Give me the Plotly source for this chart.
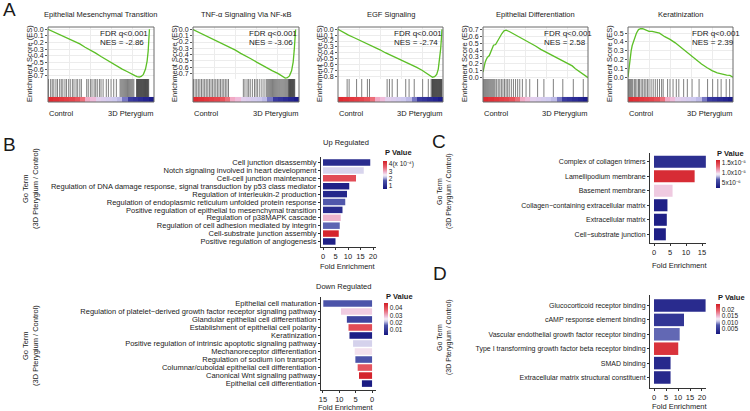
import plotly.graph_objects as go

W, H = 750, 411
FONT = "Liberation Sans, Arial, Helvetica, sans-serif"

# ---------------- Panel A : GSEA data ----------------
gsea_titles = ["Epithelial Mesenchymal Transition", "TNF-α Signaling Via NF-κB",
               "EGF Signaling", "Epithelial Differentiation", "Keratinization"]
gsea_nes = ["-2.86", "-3.06", "-2.74", "2.58", "2.39"]
gsea_fdr = "FDR q<0.001"
group_left = "Control"
group_right = "3D Pterygium"

emt_rank = [0, 4, 8, 12, 16, 20, 25, 30, 35, 40, 45, 50, 55, 60, 65, 70, 75, 79, 82, 84, 86, 88, 90, 92, 93.5, 94.5, 95.2, 95.7]
emt_es = [0, -0.03, -0.06, -0.08, -0.11, -0.14, -0.18, -0.22, -0.27, -0.31, -0.36, -0.41, -0.46, -0.51, -0.55,
          -0.60, -0.64, -0.68, -0.70, -0.715, -0.72, -0.71, -0.68, -0.60, -0.48, -0.33, -0.15, 0.0]
tnf_rank = [0, 5, 10, 15, 20, 25, 30, 35, 40, 45, 50, 55, 60, 65, 70, 75, 80, 84, 87, 89, 91, 93, 94.5, 95.5, 96.3, 96.8]
tnf_es = [0, -0.04, -0.08, -0.12, -0.16, -0.20, -0.24, -0.29, -0.33, -0.38, -0.42, -0.47, -0.52, -0.57, -0.61,
          -0.66, -0.70, -0.74, -0.775, -0.77, -0.74, -0.66, -0.52, -0.33, -0.12, 0.0]
egf_rank = [0, 2, 4, 6, 10, 15, 20, 25, 30, 35, 40, 45, 50, 55, 60, 65, 70, 75, 80, 85, 88, 90, 92, 94, 95.5,
            96.8, 97.8, 98.5, 99]
egf_es = [0, -0.02, -0.05, -0.07, -0.10, -0.14, -0.18, -0.22, -0.27, -0.31, -0.35, -0.40, -0.44, -0.48, -0.52,
          -0.57, -0.61, -0.65, -0.70, -0.76, -0.80, -0.82, -0.81, -0.77, -0.68, -0.52, -0.33, -0.15, 0.0]
epi_rank = [0, 1, 2, 3, 4, 6, 8, 10, 12, 14, 16, 18, 20, 22, 25, 30, 35, 40, 45, 50, 55, 60, 65, 70, 75, 80,
            85, 88, 91, 94, 97, 100]
epi_es = [0.08, 0.16, 0.22, 0.26, 0.29, 0.32, 0.40, 0.47, 0.48, 0.54, 0.60, 0.64, 0.68, 0.69, 0.67, 0.63, 0.59,
          0.55, 0.50, 0.46, 0.41, 0.37, 0.33, 0.28, 0.24, 0.20, 0.17, 0.13, 0.10, 0.07, 0.04, 0.0]
ker_rank = [0, 1, 2, 3, 4, 6, 8, 10, 12, 14, 16, 18, 20, 23, 26, 30, 35, 40, 45, 50, 55, 60, 65, 70, 75, 80,
            85, 88, 91, 94, 97, 100]
ker_es = [0.0, 0.12, 0.22, 0.30, 0.36, 0.44, 0.50, 0.54, 0.55, 0.55, 0.54, 0.53, 0.52, 0.52, 0.51, 0.50, 0.46,
          0.43, 0.39, 0.34, 0.30, 0.25, 0.20, 0.15, 0.11, 0.075, 0.05, 0.04, 0.03, 0.025, 0.02, 0.0]

emt_hits = [0.5, 2.5, 4, 5.5, 7.5, 9, 11, 12.5, 14, 16, 17.5, 19.5, 21, 23, 24.5, 26.5, 28, 30, 31.5,
            36.5, 38, 40, 41.5, 43.5, 45, 46.5, 48.5, 50, 52, 55, 57, 59.5, 62, 64.5,
            68, 69, 70, 71, 72, 73, 74, 75, 76, 77, 78, 79, 80, 81,
            83.5, 84, 84.5, 85, 85.5, 86, 86.5, 87, 87.5, 88, 88.5, 89, 89.5, 90, 90.5, 91, 91.5, 92,
            92.5, 93, 93.5, 94, 94.5, 95]
tnf_hits = [0.5, 2, 3.5, 5, 6.5, 8, 9.5, 11, 12.5, 14, 15.5, 17, 18.5, 20, 21.5, 23, 24.5, 26, 27.5, 29, 30.5,
            32, 33.5, 47.5, 49, 51, 52.5, 54, 56, 58, 59.5, 61, 63, 65, 67,
            69, 70, 71, 72, 73, 74, 75, 76, 77, 78, 79, 80, 81, 82, 83, 84, 85, 86, 87, 88, 89,
            90, 90.5, 91, 91.5, 92, 92.5, 93, 93.5, 94, 94.5, 95, 95.5, 96]
egf_hits = [8.7, 10.6, 17.7, 22.6, 28, 30, 46.8, 49, 51.6, 56.5, 64.5, 67.7, 72.6, 80.6, 86, 88.7,
            89.5, 90, 90.5, 91, 91.5, 92, 92.5, 93, 93.5, 94, 94.5, 95, 95.5, 96, 96.5, 97, 97.5, 98, 98.5, 99]
epi_hits = [0.5, 1.5, 2.5, 3.5, 4.5, 5.5, 6.5, 7.5, 8.5, 9.5, 10.5, 11.5, 13, 14.5, 16, 17.5, 19, 20.5, 22,
            23.5, 25, 27, 29, 31, 33, 35, 37.5, 41, 44.5, 52, 58, 67, 76, 86, 95.5]
ker_hits = [0.5, 1.5, 2.5, 3.5, 4.5, 6, 7, 8.5, 10, 11, 12.5, 14, 15.5, 17, 18.5, 20, 22, 24, 26, 28, 30, 32,
            33.5, 37.7, 40, 42.9, 46, 48.4, 53, 56.5, 61, 67.7, 75.8, 80.6, 85.5, 88.7, 93.5, 96.8]

# ranked-list metric colour band (20 segments, left = Control, right = 3D Pterygium)
band_z = [1.0, 0.95, 0.9, 0.85, 0.8, 0.7, 0.55, 0.25, 0.15, -0.05, -0.1, -0.15, -0.2, -0.25, -0.45,
          -0.6, -0.7, -0.8, -0.9, -1.0]

emt_ticks = [0.0, -0.1, -0.2, -0.3, -0.4, -0.5, -0.6, -0.7]
tnf_ticks = [0.0, -0.1, -0.2, -0.3, -0.4, -0.5, -0.6, -0.7]
egf_ticks = [0.0, -0.1, -0.2, -0.3, -0.4, -0.5, -0.6, -0.7, -0.8]
epi_ticks = [0.0, 0.1, 0.2, 0.3, 0.4, 0.5, 0.6, 0.7]
ker_ticks = [0.0, 0.1, 0.2, 0.3, 0.4, 0.5]

# ---------------- Panel B ----------------
up_terms = ["Cell junction disassembly", "Notch signaling involved in heart development",
            "Cell-cell junction maintenance",
            "Regulation of DNA damage response, signal transduction by p53 class mediator",
            "Regulation of interleukin-2 production",
            "Regulation of endoplasmic reticulum unfolded protein response",
            "Positive regulation of epithelial to mesenchymal transition",
            "Regulation of p38MAPK cascade", "Regulation of cell adhesion mediated by integrin",
            "Cell-substrate junction assembly", "Positive regulation of angiogenesis"]
up_fold = [18.9, 16.3, 13.2, 10.5, 9.6, 8.9, 7.8, 7.1, 6.7, 6.3, 5.0]
up_p = [1.0e-4, 2.3e-4, 3.8e-4, 0.8e-4, 0.9e-4, 1.75e-4, 1.0e-4, 2.9e-4, 1.8e-4, 4.3e-4, 0.8e-4]
up_cbar_vals = [1e-4, 2e-4, 3e-4, 4e-4]
up_cbar_text = ["1", "2", "3", "4(x 10⁻⁴)"]

down_terms = ["Epithelial cell maturation",
              "Regulation of platelet−derived growth factor receptor signaling pathway",
              "Glandular epithelial cell differentiation", "Establishment of epithelial cell polarity",
              "Keratinization", "Positive regulation of intrinsic apoptotic signaling pathway",
              "Mechanoreceptor differentiation", "Regulation of sodium ion transport",
              "Columnar/cuboidal epithelial cell differentiation", "Canonical Wnt signaling pathway",
              "Epithelial cell differentiation"]
down_fold = [14.9, 9.5, 7.7, 7.2, 6.9, 5.8, 5.3, 5.1, 4.4, 4.0, 3.1]
down_p = [0.016, 0.0276, 0.0127, 0.0404, 0.005, 0.0224, 0.026, 0.016, 0.039, 0.046, 0.0043]
down_cbar_vals = [0.01, 0.02, 0.03, 0.04]
down_cbar_text = ["0.01", "0.02", "0.03", "0.04"]

# ---------------- Panel C ----------------
c_terms = ["Complex of collagen trimers", "Lamellipodium membrane", "Basement membrane",
           "Collagen−containing extracellular matrix", "Extracellular matrix", "Cell−substrate junction"]
c_fold = [16.2, 12.7, 5.8, 4.2, 4.0, 3.7]
c_p = [4.1e-6, 1.59e-5, 1.04e-5, 3.1e-6, 3.1e-6, 3.1e-6]
c_cbar_vals = [5e-6, 1.0e-5, 1.5e-5]
c_cbar_text = ["5x10⁻⁶", "1.0x10⁻⁵", "1.5x10⁻⁵"]

# ---------------- Panel D ----------------
d_terms = ["Glucocorticoid receptor binding", "cAMP response element binding",
           "Vascular endothelial growth factor receptor binding",
           "Type I transforming growth factor beta receptor binding", "SMAD binding",
           "Extracellular matrix structural constituent"]
d_fold = [21.5, 12.5, 10.7, 10.1, 6.9, 6.9]
d_p = [0.0032, 0.0044, 0.0084, 0.0228, 0.0030, 0.0030]
d_cbar_vals = [0.005, 0.010, 0.015, 0.02]
d_cbar_text = ["0.005", "0.010", "0.015", "0.02"]

bar_ticks_20 = [0, 5, 10, 15, 20]
bar_ticks_15 = [0, 5, 10, 15]

# ---------------- styling ----------------
BAR_SCALE = [[0, '#16167f'], [0.3, '#4d55aa'], [0.43, '#cfcdea'], [0.5, '#f5eef5'],
             [0.58, '#eec0da'], [0.78, '#e8606b'], [1, '#d21d25']]
BAND_SCALE = [[0, '#1c1c8a'], [0.2, '#3a3aa0'], [0.3, '#8c8cd0'], [0.4, '#cfcaf0'], [0.5, '#e8d0ec'],
              [0.6, '#f2b4d4'], [0.7, '#f08a98'], [0.85, '#e85058'], [1, '#e02a30']]
TXT = '#1a1a1a'


def X(px):
    return px / W


def Y(py):
    return 1 - py / H


fig = go.Figure()
layout = dict(width=W, height=H, margin=dict(l=0, r=0, t=0, b=0), paper_bgcolor='white',
              plot_bgcolor='white', showlegend=False, font=dict(family=FONT, color=TXT))
ann = []
shapes = []


def axname(k, axis):
    return axis + ('axis' if k == 1 else f'axis{k}')


def axref(k, axis):
    return axis if k == 1 else f'{axis}{k}'


def text(x, y, s, size, xanchor='center', angle=0, bold=False):
    if bold:
        s = f'<b>{s}</b>'
    ann.append(dict(x=X(x), y=Y(y), xref='paper', yref='paper', text=s, showarrow=False,
                    xanchor=xanchor, yanchor='middle', textangle=angle,
                    font=dict(size=size, family=FONT, color=TXT)))


# ---------- Panel A ----------
boxes = [(48, 154), (193, 299), (338, 443), (483, 588), (628, 733)]
curves = [(emt_rank, emt_es), (tnf_rank, tnf_es), (egf_rank, egf_es), (epi_rank, epi_es), (ker_rank, ker_es)]
hits_all = [emt_hits, tnf_hits, egf_hits, epi_hits, ker_hits]
ticks_all = [emt_ticks, tnf_ticks, egf_ticks, epi_ticks, ker_ticks]
yranges = [[-0.75, 0.035], [-0.79, 0.04], [-0.85, 0.04], [-0.02, 0.735], [-0.02, 0.57]]
fdr_x = [0.47, 0.51, 0.51, 0.56, 0.59]
ES_TOP, ES_BOT, LOW_BOT = 27, 79, 102

for i, (x0, x1) in enumerate(boxes):
    a, b = 2 * i + 1, 2 * i + 2
    rank, es = curves[i]
    fig.add_trace(go.Scatter(x=rank, y=es, mode='lines', line=dict(color='#5cbf26', width=1.3),
                             xaxis=axref(a, 'x'), yaxis=axref(a, 'y'), hoverinfo='skip'))
    hx, hy = [], []
    for h in hits_all[i]:
        hx += [h, h, None]
        hy += [0, 1, None]
    fig.add_trace(go.Scatter(x=hx, y=hy, mode='lines', line=dict(color='rgba(0,0,0,0.5)', width=1),
                             xaxis=axref(b, 'x'), yaxis=axref(b, 'y'), hoverinfo='skip'))
    fig.add_trace(go.Heatmap(z=[band_z], x0=2.5, dx=5, y0=-0.14, dy=0.28, colorscale=BAND_SCALE,
                             zmin=-1, zmax=1, showscale=False, xaxis=axref(b, 'x'), yaxis=axref(b, 'y'),
                             hoverinfo='skip'))
    layout[axname(a, 'x')] = dict(domain=[X(x0), X(x1)], range=[0, 100], anchor=axref(a, 'y'),
                                  showticklabels=False, ticks='', showgrid=True, gridcolor='#ececec',
                                  gridwidth=0.6, dtick=20, zeroline=False, showline=False)
    layout[axname(a, 'y')] = dict(domain=[Y(ES_BOT), Y(ES_TOP)], range=yranges[i], anchor=axref(a, 'x'),
                                  tickmode='array', tickvals=ticks_all[i],
                                  ticktext=[f'{v:.1f}' for v in ticks_all[i]],
                                  tickfont=dict(size=7, family=FONT, color=TXT), ticks='outside',
                                  ticklen=2, tickcolor='#555', showgrid=True, gridcolor='#ececec',
                                  gridwidth=0.6, zeroline=False, showline=False, automargin=False)
    layout[axname(b, 'x')] = dict(domain=[X(x0), X(x1)], range=[0, 100], anchor=axref(b, 'y'),
                                  showticklabels=False, ticks='', showgrid=False, zeroline=False,
                                  showline=False)
    layout[axname(b, 'y')] = dict(domain=[Y(LOW_BOT), Y(ES_BOT)], range=[-0.28, 1], anchor=axref(b, 'x'),
                                  showticklabels=False, ticks='', showgrid=False, zeroline=False,
                                  showline=False)
    shapes.append(dict(type='rect', xref='paper', yref='paper', x0=X(x0), x1=X(x1), y0=Y(LOW_BOT),
                       y1=Y(ES_TOP), line=dict(color='#6a6a6a', width=1)))
    text((x0 + x1) / 2, 15, gsea_titles[i], 7.5)
    text(x0 - 19, 64, 'Enrichment Score (ES)', 7.5, angle=-90)
    text(x0 - 1, 113, group_left, 7.5, xanchor='left')
    text(x1 + 1, 113, group_right, 7.5, xanchor='right')
    fx = x0 + fdr_x[i] * (x1 - x0)
    text(fx, 33, gsea_fdr, 8, xanchor='left')
    text(fx, 43, f'NES = {gsea_nes[i]}', 8, xanchor='left')


# ---------- bar panels ----------
def bar_panel(k, terms, fold, pvals, cmin, cmax, cb_vals, cb_text, cb_x, cb_y0, cb_y1,
              xdom, ydom, xrange, xticks, ypad, width, fsize):
    n = len(terms)
    fig.add_trace(go.Bar(
        x=fold, y=terms, orientation='h', width=width,
        marker=dict(color=pvals, colorscale=BAR_SCALE, cmin=cmin, cmax=cmax, line=dict(width=0),
                    showscale=True,
                    colorbar=dict(x=X(cb_x), xanchor='left', y=Y((cb_y0 + cb_y1) / 2), yanchor='middle',
                                  len=cb_y1 - cb_y0, lenmode='pixels', thickness=4, thicknessmode='pixels',
                                  xpad=0, ypad=0, outlinewidth=0, tickmode='array', tickvals=cb_vals,
                                  ticktext=cb_text, ticks='',
                                  tickfont=dict(size=6.5, family=FONT, color=TXT),
                                  title=dict(text=''))),
        xaxis=axref(k, 'x'), yaxis=axref(k, 'y'), hoverinfo='skip'))
    layout[axname(k, 'x')] = dict(domain=[X(xdom[0]), X(xdom[1])], range=xrange, anchor=axref(k, 'y'),
                                  tickmode='array', tickvals=xticks,
                                  tickfont=dict(size=7.5, family=FONT, color=TXT),
                                  ticks='outside', ticklen=2, tickcolor='#333', showline=True,
                                  linecolor='#333', linewidth=1, showgrid=False, zeroline=False,
                                  automargin=False)
    layout[axname(k, 'y')] = dict(domain=[Y(ydom[1]), Y(ydom[0])], type='category',
                                  categoryorder='array', categoryarray=terms,
                                  tickmode='array', tickvals=terms, ticktext=terms,
                                  range=[n - 1 + ypad, -ypad], anchor=axref(k, 'x'),
                                  tickfont=dict(size=fsize, family=FONT, color=TXT), ticks='outside',
                                  ticklen=2, tickcolor='#333', showline=True, linecolor='#333',
                                  linewidth=1, showgrid=False, zeroline=False, automargin=False)


bar_panel(11, up_terms, up_fold, up_p, 0.6e-4, 4.4e-4, up_cbar_vals, up_cbar_text, 383, 161, 189,
          (321, 376), (157, 247), [-0.8, 21.2], bar_ticks_20, 0.7, 0.82, 7.5)
bar_panel(12, down_terms, down_fold, down_p, 0.003, 0.047, down_cbar_vals, down_cbar_text, 384, 303, 335,
          (321, 376), (297, 390), [15.6, -1.2], bar_ticks_15, 0.8, 0.82, 7.5)
bar_panel(13, c_terms, c_fold, c_p, 2.4e-6, 1.66e-5, c_cbar_vals, c_cbar_text, 716, 160, 188,
          (650, 706), (153, 243), [-1.25, 16.25], bar_ticks_15, 0.6, 0.83, 7)
bar_panel(14, d_terms, d_fold, d_p, 0.0008, 0.0245, d_cbar_vals, d_cbar_text, 716, 304, 334,
          (650, 706), (295, 388), [-1.67, 21.67], bar_ticks_20, 0.73, 0.87, 7)

# titles / labels for bar panels
text(346, 142, 'Up Regulated', 7.5)
text(343, 286, 'Down Regulated', 7.5)
text(348, 266, 'Fold Enrichment', 7.5)
text(346, 407, 'Fold Enrichment', 7.5)
text(680, 265, 'Fold Enrichment', 7.5)
text(680, 406, 'Fold Enrichment', 7.5)
text(383, 152, 'P Value', 7.5, xanchor='left', bold=True)
text(384, 296, 'P Value', 7.5, xanchor='left', bold=True)
text(715, 153, 'P Value', 7.5, xanchor='left', bold=True)
text(716, 297, 'P Value', 7.5, xanchor='left', bold=True)
for gx, gy in [(25, 189), (25, 346)]:
    text(gx, gy, 'Go Term', 7.5, angle=-90)
    text(gx + 10, gy, '(3D Pterygium / Control)', 7.5, angle=-90)
for gx, gy in [(439, 192), (439, 338)]:
    text(gx, gy, 'Go Term', 7, angle=-90)
    text(gx + 10, gy, '(3D Pterygium / Control)', 7, angle=-90)

# panel letters
text(9, 10, 'A', 19)
text(9, 144, 'B', 19)
text(439, 141, 'C', 19)
text(440, 273, 'D', 19)

layout['annotations'] = ann
layout['shapes'] = shapes
fig.update_layout(**layout)
fig.write_html("out.html", config={'displayModeBar': False},
               post_script="document.body.style.margin='0';")
